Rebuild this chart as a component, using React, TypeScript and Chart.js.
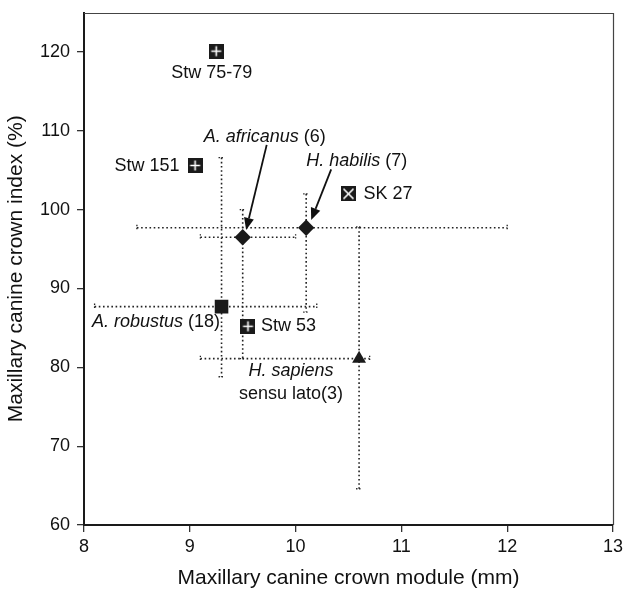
import React, { useEffect, useRef } from 'react';
import { Chart, registerables } from 'chart.js';

Chart.register(...registerables);

// ---------- data ----------
const specimenNames = ['Stw 75-79', 'Stw 151', 'Stw 53'];
const specimenModule = [9.25, 9.05, 9.55];
const specimenIndex = [120.1, 105.6, 85.2];

const sk27Names = ['SK 27'];
const sk27Module = [10.5];
const sk27Index = [102.0];

const groupNames = ['A. robustus', 'A. africanus', 'H. habilis', 'H. sapiens'];
const groupCounts = [18, 6, 7, 3];
const groupModuleMean = [9.3, 9.5, 10.1, 10.6];
const groupIndexMean = [87.7, 96.5, 97.7, 81.1];
const groupModuleLow = [8.1, 9.1, 8.5, 9.1];
const groupModuleHigh = [10.2, 10.0, 12.0, 10.7];
const groupIndexLow = [78.8, 81.1, 87.0, 64.6];
const groupIndexHigh = [106.6, 100.0, 102.0, 97.8];

const xTicks = [8, 9, 10, 11, 12, 13];
const yTicks = [60, 70, 80, 90, 100, 110, 120];

const xTitle = 'Maxillary canine crown module (mm)';
const yTitle = 'Maxillary canine crown index (%)';

// ---------- styling / label placement (pixel offsets from marks) ----------
const FONT = 'Arial, "Liberation Sans", Helvetica, sans-serif';
const INK = '#111';
const specimenLabelOffsets = [
  { dx: -4.5, dy: 22, align: 'center' },
  { dx: -15.5, dy: 1, align: 'right' },
  { dx: 13, dy: 0, align: 'left' },
];
const sk27LabelOffset = { dx: 15, dy: 0, align: 'left' };

function makeSquare(size: number, mark: 'plus' | 'x') {
  const c = document.createElement('canvas');
  c.width = size;
  c.height = size;
  const g = c.getContext('2d')!;
  g.fillStyle = '#1a1a1a';
  g.fillRect(0, 0, size, size);
  g.strokeStyle = '#fff';
  g.lineWidth = 1.6;
  g.beginPath();
  const m = 2.5;
  if (mark === 'plus') {
    g.moveTo(size / 2, m);
    g.lineTo(size / 2, size - m);
    g.moveTo(m, size / 2);
    g.lineTo(size - m, size / 2);
  } else {
    g.moveTo(m, m);
    g.lineTo(size - m, size - m);
    g.moveTo(size - m, m);
    g.lineTo(m, size - m);
  }
  g.stroke();
  return c;
}

type Part = { text: string; italic?: boolean };
function drawRich(ctx: CanvasRenderingContext2D, parts: Part[], x: number, y: number, align: string, size = 18) {
  const fonts = parts.map((p) => `${p.italic ? 'italic ' : ''}${size}px ${FONT}`);
  const widths = parts.map((p, i) => {
    ctx.font = fonts[i];
    return ctx.measureText(p.text).width;
  });
  const total = widths.reduce((a, b) => a + b, 0);
  let sx = align === 'left' ? x : align === 'right' ? x - total : x - total / 2;
  ctx.textAlign = 'left';
  ctx.textBaseline = 'middle';
  ctx.fillStyle = INK;
  parts.forEach((p, i) => {
    ctx.font = fonts[i];
    ctx.fillText(p.text, sx, y);
    sx += widths[i];
  });
}

function drawArrow(ctx: CanvasRenderingContext2D, x1: number, y1: number, x2: number, y2: number) {
  ctx.save();
  ctx.setLineDash([]);
  ctx.strokeStyle = INK;
  ctx.fillStyle = INK;
  ctx.lineWidth = 1.8;
  const ang = Math.atan2(y2 - y1, x2 - x1);
  const L = 12;
  const W = 5;
  const bx = x2 - L * Math.cos(ang);
  const by = y2 - L * Math.sin(ang);
  ctx.beginPath();
  ctx.moveTo(x1, y1);
  ctx.lineTo(bx, by);
  ctx.stroke();
  ctx.beginPath();
  ctx.moveTo(x2, y2);
  ctx.lineTo(bx + W * Math.sin(ang), by - W * Math.cos(ang));
  ctx.lineTo(bx - W * Math.sin(ang), by + W * Math.cos(ang));
  ctx.closePath();
  ctx.fill();
  ctx.restore();
}

const errorBarPlugin = {
  id: 'errorBars',
  beforeDatasetsDraw(chart: any) {
    const { ctx, scales } = chart;
    const xs = scales.x;
    const ys = scales.y;
    ctx.save();
    ctx.strokeStyle = '#222';
    ctx.lineWidth = 1.6;
    ctx.setLineDash([1.6, 2.6]);
    const cap = 3;
    for (let i = 0; i < groupNames.length; i++) {
      const cx = xs.getPixelForValue(groupModuleMean[i]);
      const cy = ys.getPixelForValue(groupIndexMean[i]);
      const x0 = xs.getPixelForValue(groupModuleLow[i]);
      const x1 = xs.getPixelForValue(groupModuleHigh[i]);
      const y0 = ys.getPixelForValue(groupIndexLow[i]);
      const y1 = ys.getPixelForValue(groupIndexHigh[i]);
      ctx.beginPath();
      ctx.moveTo(x0, cy);
      ctx.lineTo(x1, cy);
      ctx.stroke();
      ctx.beginPath();
      ctx.moveTo(cx, y1);
      ctx.lineTo(cx, y0);
      ctx.stroke();
      ctx.save();
      ctx.setLineDash([1.4, 1.6]);
      ctx.lineWidth = 1.3;
      ctx.beginPath();
      ctx.moveTo(x0, cy - cap);
      ctx.lineTo(x0, cy + cap);
      ctx.moveTo(x1, cy - cap);
      ctx.lineTo(x1, cy + cap);
      ctx.moveTo(cx - cap, y0);
      ctx.lineTo(cx + cap, y0);
      ctx.moveTo(cx - cap, y1);
      ctx.lineTo(cx + cap, y1);
      ctx.stroke();
      ctx.restore();
    }
    ctx.restore();
  },
  afterDatasetsDraw(chart: any) {
    const { ctx, scales, chartArea } = chart;
    const xs = scales.x;
    const ys = scales.y;
    ctx.save();
    // top & right frame
    ctx.strokeStyle = '#444';
    ctx.lineWidth = 1.2;
    ctx.setLineDash([]);
    ctx.beginPath();
    ctx.moveTo(chartArea.left, Math.round(chartArea.top) + 0.5);
    ctx.lineTo(Math.round(chartArea.right) + 0.5, Math.round(chartArea.top) + 0.5);
    ctx.lineTo(Math.round(chartArea.right) + 0.5, chartArea.bottom);
    ctx.stroke();

    // specimen labels
    specimenNames.forEach((name, i) => {
      const px = xs.getPixelForValue(specimenModule[i]);
      const py = ys.getPixelForValue(specimenIndex[i]);
      const o = specimenLabelOffsets[i];
      drawRich(ctx, [{ text: name }], px + o.dx, py + o.dy, o.align);
    });
    sk27Names.forEach((name, i) => {
      const px = xs.getPixelForValue(sk27Module[i]);
      const py = ys.getPixelForValue(sk27Index[i]);
      drawRich(ctx, [{ text: name }], px + sk27LabelOffset.dx, py + sk27LabelOffset.dy, sk27LabelOffset.align);
    });

    // group labels
    const gp = groupNames.map((_, i) => ({
      x: xs.getPixelForValue(groupModuleMean[i]),
      y: ys.getPixelForValue(groupIndexMean[i]),
    }));
    drawRich(ctx, [{ text: groupNames[0], italic: true }, { text: ` (${groupCounts[0]})` }], gp[0].x - 1.5, gp[0].y + 15, 'right');
    drawRich(ctx, [{ text: groupNames[1], italic: true }, { text: ` (${groupCounts[1]})` }], gp[1].x + 22, gp[1].y - 100.5, 'center');
    drawArrow(ctx, gp[1].x + 24, gp[1].y - 92.3, gp[1].x + 3.4, gp[1].y - 7.3);
    drawRich(ctx, [{ text: groupNames[2], italic: true }, { text: ` (${groupCounts[2]})` }], gp[2].x, gp[2].y - 67, 'left');
    drawArrow(ctx, gp[2].x + 25, gp[2].y - 58.4, gp[2].x + 5, gp[2].y - 7.7);
    drawRich(ctx, [{ text: groupNames[3], italic: true }], gp[3].x - 68, gp[3].y + 12.5, 'center');
    drawRich(ctx, [{ text: `sensu lato(${groupCounts[3]})` }], gp[3].x - 68, gp[3].y + 35, 'center');
    ctx.restore();
  },
};

export default function App() {
  const ref = useRef<HTMLCanvasElement>(null);
  useEffect(() => {
    if (!ref.current) return;
    const plusImg = makeSquare(15, 'plus');
    const xImg = makeSquare(15, 'x');
    const dark = '#1a1a1a';
    const chart = new Chart(ref.current, {
      type: 'scatter',
      data: {
        datasets: [
          {
            label: 'Specimens',
            data: specimenModule.map((x, i) => ({ x, y: specimenIndex[i] })),
            pointStyle: plusImg as any,
            pointRadius: 8,
          },
          {
            label: 'SK 27',
            data: sk27Module.map((x, i) => ({ x, y: sk27Index[i] })),
            pointStyle: xImg as any,
            pointRadius: 8,
          },
          {
            label: groupNames[0],
            data: [{ x: groupModuleMean[0], y: groupIndexMean[0] }],
            pointStyle: 'rect',
            pointRadius: 9.6,
            backgroundColor: dark,
            borderColor: dark,
            borderWidth: 0,
          },
          {
            label: 'A. africanus / H. habilis',
            data: [1, 2].map((i) => ({ x: groupModuleMean[i], y: groupIndexMean[i] })),
            pointStyle: 'rectRot',
            pointRadius: 8.2,
            backgroundColor: dark,
            borderColor: dark,
            borderWidth: 0,
          },
          {
            label: groupNames[3],
            data: [{ x: groupModuleMean[3], y: groupIndexMean[3] }],
            pointStyle: 'triangle',
            pointRadius: 8,
            backgroundColor: dark,
            borderColor: dark,
            borderWidth: 0,
          },
        ],
      },
      options: {
        animation: false,
        responsive: false,
        devicePixelRatio: 1,
        layout: { padding: { top: 12.5, right: 11, left: 0, bottom: 0 } },
        plugins: {
          legend: { display: false },
          tooltip: { enabled: false },
        },
        scales: {
          x: {
            type: 'linear',
            min: 8,
            max: 13,
            afterBuildTicks: (s: any) => {
              s.ticks = xTicks.map((v) => ({ value: v }));
            },
            afterFit: (s: any) => {
              s.height = 66;
              s.paddingLeft = 0;
              s.paddingRight = 0;
            },
            ticks: { color: INK, font: { size: 18, family: FONT }, padding: 4 },
            grid: { drawOnChartArea: false, drawTicks: true, tickLength: 7, color: '#333', lineWidth: 1.3 },
            border: { display: true, color: dark, width: 2 },
            title: {
              display: true,
              text: xTitle,
              color: INK,
              font: { size: 21, family: FONT },
              padding: { top: 0, bottom: 0 },
            },
          },
          y: {
            type: 'linear',
            min: 60,
            max: 125,
            afterBuildTicks: (s: any) => {
              s.ticks = yTicks.map((v) => ({ value: v }));
            },
            afterFit: (s: any) => {
              s.width = 84;
              s.paddingTop = 0;
              s.paddingBottom = 0;
            },
            ticks: { color: INK, font: { size: 18, family: FONT }, padding: 7 },
            grid: { drawOnChartArea: false, drawTicks: true, tickLength: 7, color: '#333', lineWidth: 1.3 },
            border: { display: true, color: dark, width: 2 },
            title: {
              display: true,
              text: yTitle,
              color: INK,
              font: { size: 21, family: FONT },
              padding: { top: 4, bottom: 0 },
            },
          },
        },
      } as any,
      plugins: [errorBarPlugin],
    });
    return () => chart.destroy();
  }, []);
  return (
    <div style={{ position: 'fixed', left: 0, top: 0, width: 624, height: 591, background: '#fff' }}>
      <canvas ref={ref} width={624} height={591} style={{ display: 'block', width: 624, height: 591 }} />
    </div>
  );
}
